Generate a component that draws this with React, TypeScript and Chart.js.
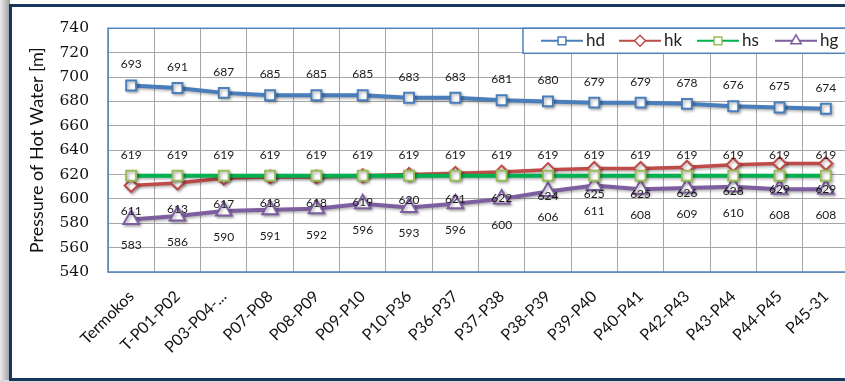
import React, { useEffect, useRef } from "react";
import { Chart, registerables } from "chart.js";
import { drawPoint } from "chart.js/helpers";

Chart.register(...registerables);

// Pipeline segments along the hot-water main
const segments = [
  "Termokos", "T-P01-P02", "P03-P04-...", "P07-P08", "P08-P09", "P09-P10",
  "P10-P36", "P36-P37", "P37-P38", "P38-P39", "P39-P40", "P40-P41",
  "P42-P43", "P43-P44", "P44-P45", "P45-31",
];

// Pressure heads [m]
const hd = [693, 691, 687, 685, 685, 685, 683, 683, 681, 680, 679, 679, 678, 676, 675, 674];
const hk = [611, 613, 617, 618, 618, 619, 620, 621, 622, 624, 625, 625, 626, 628, 629, 629];
const hs = [619, 619, 619, 619, 619, 619, 619, 619, 619, 619, 619, 619, 619, 619, 619, 619];
const hg = [583, 586, 590, 591, 592, 596, 593, 596, 600, 606, 611, 608, 609, 610, 608, 608];

const Y_MIN = 540;
const Y_MAX = 740;
const Y_STEP = 20;

// vertical offset of the value labels per series (negative = above the point)
const LABEL_SHIFT = [-21, 26, -21, 26];

const plotFrame = {
  id: "plotFrame",
  beforeDatasetsDraw(chart: any) {
    const { ctx, chartArea: a } = chart;
    ctx.save();
    ctx.strokeStyle = "#4f81bd";
    ctx.lineWidth = 1.5;
    ctx.strokeRect(a.left, a.top, a.right - a.left, a.bottom - a.top);
    ctx.restore();
  },
};

const lineShadow = {
  id: "lineShadow",
  beforeDatasetDraw(chart: any) {
    const ctx = chart.ctx;
    ctx.save();
    ctx.shadowColor = "rgba(0,0,0,0.32)";
    ctx.shadowBlur = 3;
    ctx.shadowOffsetX = 1.5;
    ctx.shadowOffsetY = 1.5;
  },
  afterDatasetDraw(chart: any) {
    chart.ctx.restore();
  },
};

const valueLabels = {
  id: "valueLabels",
  afterDatasetsDraw(chart: any) {
    const ctx = chart.ctx;
    ctx.save();
    ctx.font = "12px Lato";
    ctx.fillStyle = "#1a1a1a";
    ctx.textAlign = "center";
    ctx.textBaseline = "middle";
    chart.data.datasets.forEach((ds: any, i: number) => {
      const meta = chart.getDatasetMeta(i);
      meta.data.forEach((pt: any, j: number) => {
        ctx.fillText(String(ds.data[j]), pt.x, pt.y + LABEL_SHIFT[i]);
      });
    });
    ctx.restore();
  },
};

const boxLegend = {
  id: "boxLegend",
  afterDraw(chart: any) {
    const { ctx, chartArea: a, width } = chart;
    const left = 523;
    const top = a.top;
    const h = 25;
    ctx.save();
    ctx.fillStyle = "#ffffff";
    ctx.fillRect(left, top, width - left, h);
    ctx.strokeStyle = "#4f81bd";
    ctx.lineWidth = 1.5;
    ctx.strokeRect(left, top, width - left + 5, h);
    const cy = top + h / 2;
    chart.data.datasets.forEach((ds: any, i: number) => {
      const x0 = 541 + i * 78;
      ctx.strokeStyle = ds.borderColor;
      ctx.lineWidth = 2;
      ctx.beginPath();
      ctx.moveTo(x0, cy);
      ctx.lineTo(x0 + 42, cy);
      ctx.stroke();
      ctx.fillStyle = "#ffffff";
      ctx.strokeStyle = ds.pointBorderColor;
      ctx.lineWidth = 1.5;
      drawPoint(ctx, { pointStyle: ds.pointStyle, radius: ds.pointStyle === "triangle" ? 6 : 5.5, rotation: 0, borderWidth: 1.5 } as any, x0 + 21, cy);
      ctx.fillStyle = "#222";
      ctx.font = "17px Lato";
      ctx.textAlign = "left";
      ctx.textBaseline = "middle";
      ctx.fillText(ds.label, x0 + 45, cy);
    });
    ctx.restore();
  },
};

export default function App() {
  const ref = useRef<HTMLCanvasElement | null>(null);

  useEffect(() => {
    if (!ref.current) return;
    const yTicks: number[] = [];
    for (let v = Y_MIN; v <= Y_MAX; v += Y_STEP) yTicks.push(v);

    const chart = new Chart(ref.current, {
      type: "line",
      data: {
        labels: segments,
        datasets: [
          {
            label: "hd", data: hd, order: 1,
            borderColor: "#4a7ebb", borderWidth: 4,
            pointStyle: "rect", pointRadius: 7, pointBorderWidth: 2,
            pointBorderColor: "#4a7ebb", pointBackgroundColor: "#ffffff",
          },
          {
            label: "hk", data: hk, order: 1,
            borderColor: "#be4b48", borderWidth: 3.5,
            pointStyle: "rectRot", pointRadius: 6.5, pointBorderWidth: 2,
            pointBorderColor: "#be4b48", pointBackgroundColor: "#ffffff",
          },
          {
            label: "hs", data: hs, order: 0,
            borderColor: "#00b050", borderWidth: 4,
            pointStyle: "rect", pointRadius: 7, pointBorderWidth: 2,
            pointBorderColor: "#9bbb59", pointBackgroundColor: "#ffffff",
          },
          {
            label: "hg", data: hg, order: 1,
            borderColor: "#7d5fa0", borderWidth: 4,
            pointStyle: "triangle", pointRadius: 9, pointBorderWidth: 2,
            pointBorderColor: "#7d5fa0", pointBackgroundColor: "#ffffff",
          },
        ],
      } as any,
      options: {
        responsive: false,
        animation: false,
        layout: { padding: { top: 23, right: 10, left: 0, bottom: 0 } },
        plugins: { legend: { display: false }, tooltip: { enabled: false } },
        elements: { line: { tension: 0 } },
        scales: {
          x: {
            offset: true,
            grid: { offset: true, color: "#a6a6a6", lineWidth: 1, drawTicks: false },
            border: { display: false },
            ticks: {
              autoSkip: false, minRotation: 45, maxRotation: 45, padding: 15,
              color: "#111", font: { family: "Lato", size: 16 },
            },
            afterFit: (s: any) => { s.height = 110; },
          },
          y: {
            min: Y_MIN, max: Y_MAX,
            afterBuildTicks: (s: any) => { s.ticks = yTicks.map((v) => ({ value: v })); },
            grid: { color: "#a6a6a6", lineWidth: 1, drawTicks: false },
            border: { display: false },
            ticks: {
              autoSkip: false, padding: 19, color: "#111",
              font: { family: "DejaVu Serif", size: 15.5 },
            },
            title: {
              display: true, text: "Pressure of Hot Water [m]",
              color: "#111", font: { family: "Lato", size: 18 },
              padding: { top: 26, bottom: 0 },
            },
            afterFit: (s: any) => { s.width = 108; },
          },
        },
      } as any,
      plugins: [plotFrame, lineShadow, valueLabels, boxLegend],
    });
    return () => chart.destroy();
  }, []);

  return (
    <div style={{ position: "fixed", left: 0, top: 0, width: 845, height: 382, overflow: "hidden", background: "#ffffff" }}>
      <div style={{ position: "absolute", left: 0, top: 0, width: 10, height: 382, background: "linear-gradient(to right, #ececec, #9c9c9c)" }} />
      <div style={{ position: "absolute", left: 0, top: 380, width: 845, height: 2, background: "#d8d8d8" }} />
      <canvas ref={ref} width={860} height={382} style={{ position: "absolute", left: 0, top: 0 }} />
      <div style={{ position: "absolute", left: 9, top: 4, width: 900, height: 377, boxSizing: "border-box", border: "3px solid #17365d", pointerEvents: "none" }} />
    </div>
  );
}
